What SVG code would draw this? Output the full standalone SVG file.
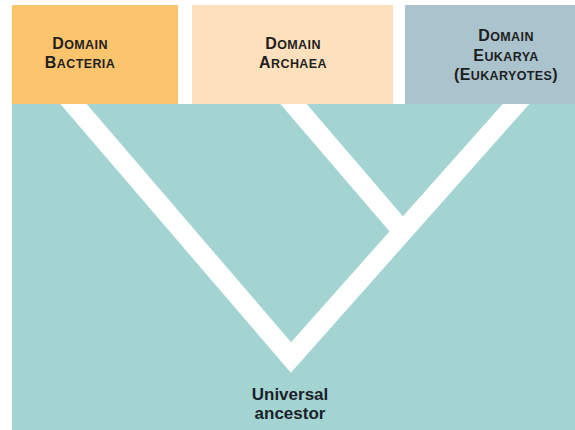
<svg xmlns="http://www.w3.org/2000/svg" width="575" height="430" viewBox="0 0 575 430">
  <style>
    .lbl { font-family: "Liberation Sans", Arial, sans-serif; font-weight: bold; fill: #1e1e1e; text-anchor: middle; letter-spacing: 0.4px; }
    .cap { font-size: 16px; }
    .sc { font-size: 12.5px; }
    .anc { font-family: "Liberation Sans", Arial, sans-serif; font-weight: bold; font-size: 17px; fill: #1b1f2a; text-anchor: middle; }
    .branch { fill: none; stroke: #ffffff; stroke-width: 20; stroke-linejoin: miter; stroke-linecap: butt; }
  </style>
  <rect x="0" y="0" width="575" height="430" fill="#ffffff"/>
  <rect id="tree-bg" x="12" y="104" width="563" height="326" fill="#a3d4d1"/>
  <g id="connectors">
    <polyline class="branch" points="61.5,90 291,357.5 528.4,90"/>
    <line class="branch" x1="281.5" y1="90" x2="402.8" y2="231.5"/>
  </g>
  <g id="bacteria">
    <rect x="12" y="5" width="166" height="99" fill="#fdc46e"/>
    <text class="lbl" x="80" y="49"><tspan class="cap">D</tspan><tspan class="sc">OMAIN</tspan></text>
    <text class="lbl" x="80" y="68"><tspan class="cap">B</tspan><tspan class="sc">ACTERIA</tspan></text>
  </g>
  <g id="archaea">
    <rect x="192" y="5" width="201" height="99" fill="#fee0bc"/>
    <text class="lbl" x="293" y="49"><tspan class="cap">D</tspan><tspan class="sc">OMAIN</tspan></text>
    <text class="lbl" x="293" y="68"><tspan class="cap">A</tspan><tspan class="sc">RCHAEA</tspan></text>
  </g>
  <g id="eukarya">
    <rect x="405" y="5" width="170" height="99" fill="#aac3cd"/>
    <text class="lbl" x="506" y="41"><tspan class="cap">D</tspan><tspan class="sc">OMAIN</tspan></text>
    <text class="lbl" x="506" y="60.5"><tspan class="cap">E</tspan><tspan class="sc">UKARYA</tspan></text>
    <text class="lbl" x="506" y="80"><tspan class="cap">(E</tspan><tspan class="sc">UKARYOTES</tspan><tspan class="cap">)</tspan></text>
  </g>
  <g id="universal-ancestor">
    <text class="anc" x="290" y="400">Universal</text>
    <text class="anc" x="290" y="419">ancestor</text>
  </g>
</svg>
